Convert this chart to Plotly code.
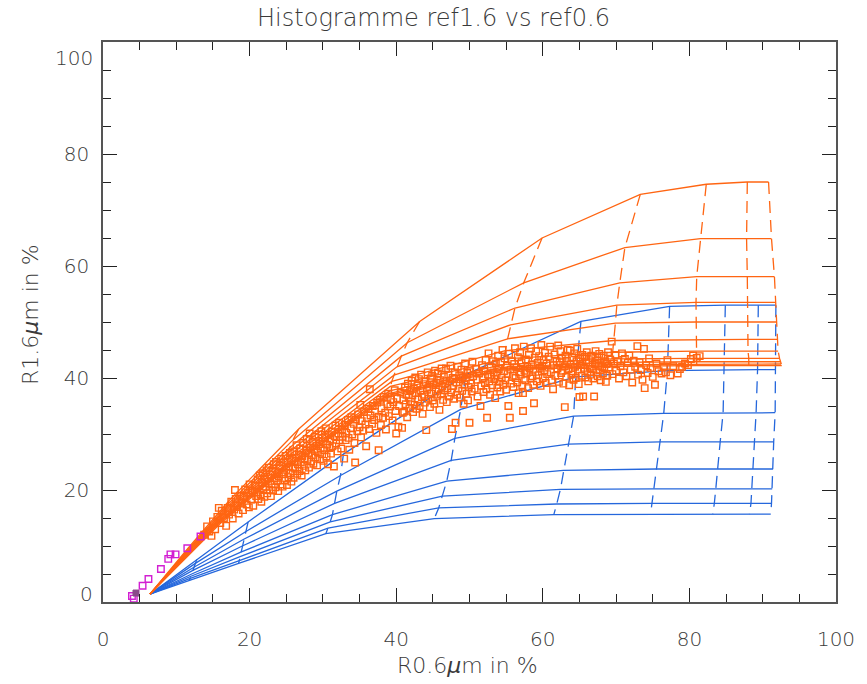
import plotly.graph_objects as go

# ---------------------------------------------------------------
# Lookup-table grid: common origin (surface reflectance), then one
# node per optical thickness (t1..t9) on each effective-radius curve.
# ---------------------------------------------------------------
START = (6.4, 1.4)

# water droplets (blue), radius curves from top to bottom
WATER_X = [
    [12.8, 19.8, 32.8, 49.5, 65.2, 77.3, 84.9, 89.4, 91.8],
    [12.6, 19.5, 32.4, 48.8, 64.5, 77.0, 84.7, 89.3, 91.7],
    [12.4, 19.2, 31.9, 48.0, 64.2, 76.5, 84.6, 89.1, 91.7],
    [12.2, 19.0, 31.6, 47.5, 63.5, 76.0, 84.2, 88.9, 91.5],
    [12.1, 18.8, 31.3, 46.9, 62.8, 75.5, 83.9, 88.7, 91.4],
    [12.0, 18.7, 31.0, 46.3, 62.4, 75.2, 83.6, 88.5, 91.3],
    [11.9, 18.6, 30.7, 45.8, 61.9, 74.9, 83.4, 88.4, 91.2],
    [11.8, 18.5, 30.4, 45.2, 61.5, 74.7, 83.2, 88.2, 91.1],
]
WATER_Y = [
    [7.6, 14.3, 26.4, 40.6, 50.1, 52.8, 53.0, 53.0, 53.0],
    [6.9, 12.6, 22.6, 34.4, 40.2, 41.3, 41.5, 41.5, 41.5],
    [6.2, 11.2, 19.8, 29.2, 33.2, 33.7, 33.8, 33.8, 33.8],
    [5.6, 10.0, 17.6, 25.3, 28.2, 28.6, 28.6, 28.6, 28.6],
    [5.0, 8.9, 15.6, 21.6, 23.5, 23.75, 23.75, 23.75, 23.75],
    [4.6, 8.1, 14.3, 18.9, 20.1, 20.2, 20.2, 20.2, 20.2],
    [4.2, 7.4, 13.2, 16.8, 17.5, 17.6, 17.6, 17.6, 17.6],
    [3.9, 6.9, 12.2, 14.9, 15.6, 15.7, 15.7, 15.7, 15.7],
]

# ice crystals (orange), radius curves from top to bottom
ICE_X = [
    [11.6, 17.2, 26.7, 43.2, 59.9, 73.3, 82.3, 87.9, 90.8],
    [11.5, 17.0, 25.9, 41.5, 57.4, 71.2, 81.5, 87.8, 91.2],
    [11.4, 16.8, 25.5, 40.7, 56.2, 70.5, 81.0, 87.9, 91.6],
    [11.3, 16.6, 25.2, 40.1, 55.6, 70.1, 80.9, 87.9, 91.8],
    [11.3, 16.5, 25.0, 39.7, 55.2, 69.9, 80.9, 88.0, 91.9],
    [11.2, 16.4, 24.9, 39.4, 54.9, 69.7, 81.0, 88.0, 92.0],
    [11.2, 16.3, 24.8, 39.2, 54.7, 69.5, 81.0, 88.0, 92.1],
    [11.1, 16.2, 24.7, 39.1, 54.5, 69.4, 81.0, 88.1, 92.3],
    [11.1, 16.1, 24.6, 39.0, 54.4, 69.4, 81.0, 88.1, 92.4],
    [11.0, 16.0, 24.6, 38.9, 54.3, 69.3, 81.0, 88.1, 92.5],
    [11.0, 16.0, 24.5, 38.9, 54.3, 69.3, 81.0, 88.1, 92.6],
]
ICE_Y = [
    [9.6, 18.1, 30.9, 50.1, 65.0, 72.8, 74.6, 75.0, 75.0],
    [9.2, 17.4, 28.9, 46.3, 57.0, 63.3, 64.9, 64.9, 64.9],
    [8.9, 16.8, 27.6, 43.9, 52.5, 57.0, 58.1, 58.1, 58.1],
    [8.7, 16.3, 26.6, 42.0, 49.5, 53.0, 53.5, 53.5, 53.5],
    [8.5, 15.9, 25.8, 40.5, 47.0, 49.8, 50.0, 50.0, 50.0],
    [8.3, 15.5, 25.1, 39.4, 44.9, 46.7, 46.9, 46.9, 46.9],
    [8.1, 15.1, 24.5, 38.5, 43.4, 44.6, 44.8, 44.8, 44.8],
    [7.9, 14.8, 24.1, 37.7, 42.4, 43.4, 43.5, 43.5, 43.5],
    [7.8, 14.5, 23.8, 37.2, 41.9, 42.8, 42.9, 42.9, 42.9],
    [7.7, 14.3, 23.5, 36.9, 41.6, 42.4, 42.5, 42.5, 42.5],
    [7.5, 14.0, 23.3, 36.6, 41.4, 42.1, 42.2, 42.2, 42.2],
]

# observed pixels: (R0.6, R1.6) in %
OBS_PIXELS = """
13.8,12.0 14.2,13.5 14.5,12.6 15.0,14.4 15.3,13.0 15.6,15.2 16.0,14.1 16.2,16.3 16.5,15.0 16.8,13.6
17.0,16.8 17.2,15.6 17.5,17.9 17.7,14.9 17.9,16.5 18.1,18.4 18.3,17.2 18.5,15.8 18.7,19.0 18.9,17.7
19.1,16.4 19.2,18.8 19.4,20.1 19.6,17.4 19.8,19.5 19.9,16.9 20.0,21.0 20.2,18.3 20.4,19.9 20.5,17.2
20.7,20.8 20.9,18.9 15.8,16.8 14.8,11.8 18.0,20.0
21.0,19.6 21.1,21.9 21.2,18.4 21.3,20.7 21.4,22.6 21.5,19.2 21.6,17.9 21.7,21.3 21.8,23.0 21.9,20.1
22.0,18.8 22.1,22.0 22.2,20.6 22.3,23.5 22.4,19.4 22.5,21.5 22.6,24.0 22.7,20.0 22.8,22.7 22.9,18.9
23.0,21.0 23.1,23.3 23.2,19.9 23.3,24.6 23.4,22.1 23.5,20.5 23.6,25.0 23.7,21.6 23.8,23.0 23.9,19.8
24.0,22.4 24.1,24.3 24.2,21.0 24.3,25.6 24.4,23.2 24.5,20.6 24.6,22.8 24.7,24.9 24.8,21.7 24.9,26.1
25.0,23.6 25.1,20.9 25.2,25.1 25.3,22.3 25.4,24.2 25.5,26.6 25.6,23.0 25.7,21.5 25.8,25.6 25.9,24.0
26.0,22.2 26.1,26.9 26.2,23.8 26.3,25.2 26.4,28.0 26.5,22.9 26.6,24.6 26.7,26.3 26.8,23.4 26.9,27.4
27.0,25.0 27.1,22.6 27.2,26.0 27.3,28.4 27.4,24.3 27.5,25.7 27.6,23.5 27.7,27.0 27.8,29.1 27.9,25.4
28.0,26.6 28.1,24.0 28.2,30.1 28.3,27.6 28.4,25.1 28.5,26.2 28.6,28.6 28.7,24.7 28.8,27.2 28.9,29.5
29.0,25.8 29.1,27.9 29.2,24.4 29.3,26.7 29.4,29.9 29.5,28.2 29.6,25.5 29.7,27.4 29.8,30.5 29.9,26.4
30.0,28.7 30.1,25.2 30.2,27.1 30.3,29.4 30.4,31.0 30.5,26.0 30.6,28.1 30.7,24.6 30.8,29.8 30.9,27.5
31.0,29.0 31.1,26.5 31.2,30.4 31.3,27.8 31.5,24.2 31.6,29.6 31.7,31.5 31.8,28.3 32.0,26.9 32.1,30.1
32.2,32.0 32.3,28.9 32.5,27.4 32.6,30.8 32.7,29.5 32.9,25.6 33.0,31.6 33.1,28.9 33.2,30.2 33.4,32.5
33.5,29.3 33.6,27.2 33.8,31.0 33.9,33.0 34.0,29.9 34.2,31.8 34.3,28.4 34.4,24.9 34.5,32.6 34.7,30.5
34.8,33.5 35.0,31.2 35.1,35.2 35.2,29.4 35.3,32.3 35.5,30.6 35.6,33.9 35.8,31.7 35.9,27.8 36.0,32.8
36.2,34.5 36.3,30.9 36.4,38.0 36.5,33.3 36.7,31.8 36.8,35.0 37.0,32.5 37.1,34.0 37.3,30.2 37.4,35.6
37.6,27.1 37.6,33.1 37.8,36.1 37.9,31.6 38.0,34.6 38.2,32.9 38.3,36.6 38.5,33.8 38.6,30.8 38.8,35.3
38.9,37.2 39.0,33.2 39.2,34.9 39.3,36.2 39.5,32.4 39.6,35.7 39.8,37.8 39.9,34.1 40.0,30.1 40.1,36.4
40.3,31.3 40.4,35.0 40.6,37.4 40.8,31.1 40.9,33.8
41.0,36.0 41.1,34.0 41.2,38.3 41.3,35.3 41.4,37.0 41.5,33.0 41.6,39.0 41.7,36.5 41.8,34.6 41.9,37.8
42.0,35.8 42.1,39.5 42.2,36.9 42.3,33.9 42.4,38.1 42.5,35.2 42.6,40.1 42.7,37.3 42.8,34.5 42.9,38.7
43.0,36.2 43.1,39.8 43.2,35.0 43.3,37.7 43.4,40.6 43.5,36.6 43.6,33.6 43.7,38.9 43.8,37.0 43.9,35.6
44.0,39.3 44.1,30.7 44.2,37.9 44.3,41.0 44.4,36.3 44.5,38.4 44.6,34.8 44.7,39.9 44.8,37.2 44.9,40.4
45.0,36.0 45.1,38.8 45.2,35.4 45.3,41.3 45.4,37.6 45.5,39.1 45.6,36.8 45.7,40.8 45.8,38.0 45.9,34.3
46.0,39.6 46.1,37.1 46.2,41.7 46.3,38.5 46.4,36.1 46.5,40.2 46.6,37.8 46.7,39.0 46.8,41.7 46.9,35.7
47.0,38.2 47.1,40.6 47.2,36.7 47.3,39.4 47.4,42.2 47.5,37.4 47.6,30.9 47.7,40.0 47.8,38.6 47.9,36.3
48.0,41.0 48.1,32.0 48.2,39.2 48.3,37.0 48.4,42.0 48.5,38.1 48.6,40.5 48.7,36.5 48.8,39.8 48.9,41.5
49.0,37.7 49.1,40.1 49.2,35.4 49.3,38.8 49.4,42.6 49.5,39.5 49.6,37.2 49.7,40.9 49.8,36.0 49.9,38.4
50.0,32.0 50.1,41.2 50.2,39.0 50.3,37.6 50.4,42.9 50.5,40.3
50.7,38.1 50.9,41.6 51.0,39.7 51.1,36.7 51.3,40.8 51.5,35.0 51.6,38.6 51.7,42.3 51.8,40.0 51.9,37.5
52.0,41.3 52.1,39.1 52.2,43.2 52.3,38.0 52.4,32.9 52.5,40.6 52.6,44.4 52.7,39.4 52.8,37.0 52.9,42.0
53.0,40.2 53.1,38.7 53.2,43.0 53.3,41.0 53.4,39.8 53.5,36.4 53.6,42.6 53.7,40.5 53.8,38.3 53.9,44.0
54.0,41.6 54.1,39.3 54.2,37.6 54.3,42.9 54.4,40.1 54.5,45.0 54.6,38.8 54.7,41.2 54.8,43.5 54.9,39.6
55.0,37.9 55.1,42.2 55.2,40.7 55.3,35.0 55.4,44.3 55.5,32.9 55.6,41.5 55.7,39.0 55.8,43.0 55.9,40.4
56.0,38.4 56.1,42.5 56.2,45.3 56.3,40.0 56.4,41.9 56.5,39.2 56.6,43.7 56.7,37.3 56.8,41.0 56.9,44.6
57.0,40.6 57.1,42.8 57.2,38.7 57.3,37.3 57.3,34.1 57.4,45.6 57.5,41.3 57.6,39.6 57.7,43.3 57.8,40.9
57.9,42.0 58.0,38.2 58.1,44.1 58.2,41.7 58.3,39.9 58.4,45.3 58.5,42.4 58.6,40.3 58.7,38.8 58.8,35.5
58.9,43.6 59.0,41.1 59.1,44.8 59.2,39.4 59.3,42.7 59.4,40.5 59.5,43.9 59.6,41.8 59.7,38.6 59.8,45.9
59.9,42.1 60.0,40.0 60.1,43.2 60.2,41.4 60.3,44.5 60.4,39.1 60.5,42.6 60.6,40.7
60.8,43.8 61.0,45.6 61.1,41.0 61.2,39.6 61.4,38.0 61.5,42.3 61.6,44.2 61.7,40.4 61.9,43.0 62.0,41.7
62.1,45.8 62.2,39.3 62.3,42.8 62.4,44.8 62.5,40.9 62.6,43.5 62.7,41.3 62.8,39.0 63.0,34.8 63.0,42.1
63.1,44.0 63.2,40.2 63.3,43.1 63.4,45.0 63.5,41.6 63.6,38.7 63.7,44.9 63.8,42.4 63.9,40.6 64.0,43.7
64.1,41.2 64.2,39.7 64.3,44.4 64.4,42.0 64.5,40.0 64.6,43.0 64.7,45.2 64.8,41.5 64.9,38.9 65.0,36.6
65.1,43.4 65.2,42.3 65.3,40.4 65.4,44.1 65.5,36.7 65.6,41.8 65.7,43.8 65.8,40.1 65.9,42.8 66.0,44.6
66.1,41.1 66.2,39.4 66.3,43.2 66.4,42.0 66.5,40.6 66.6,44.0 66.7,41.6 66.8,43.5 66.9,39.9 67.0,36.7
67.1,42.5 67.2,44.8 67.3,41.0 67.4,43.1 67.5,40.3 67.6,42.2 67.7,44.3 67.8,41.4 67.9,39.6 68.0,43.6
68.1,42.0 68.2,40.8 68.3,44.0 68.4,41.7 68.5,43.0 68.6,39.3 68.7,42.5 68.8,40.4 68.9,44.6 69.0,41.9
69.2,43.3 69.4,46.5 69.5,40.7 69.7,42.6 69.9,44.1 70.0,41.3
70.2,43.0 70.4,39.9 70.6,42.1 70.8,44.4 71.0,41.0 71.2,43.4 71.4,40.3 71.6,42.7 71.8,44.0 72.0,41.5
72.2,39.2 72.4,43.1 72.6,42.0 72.9,45.7 73.0,40.6 73.2,42.8 73.4,41.4 73.6,39.7 73.8,45.2 73.9,38.2
74.1,42.3 74.3,40.9 74.5,43.5 74.7,41.8 75.0,40.2 75.3,38.8 75.5,42.6 75.8,41.2 76.2,40.8 76.5,42.0
76.8,41.0 77.0,43.2 77.4,40.5 77.8,42.1 78.4,40.8 78.7,41.6 79.0,42.0 79.4,42.6 79.8,42.3 80.2,43.4
80.5,44.0 81.0,43.6 81.4,43.9
"""

# clear-sky / thin pixels near the origin
CLEAR_X = [3.95, 5.4, 6.2, 7.9, 8.9, 9.2, 9.9, 11.5, 13.3, 4.2]
CLEAR_Y = [1.07, 2.9, 4.1, 5.9, 7.7, 8.5, 8.5, 9.6, 11.7, 0.6]
MIXED_X = [4.5]
MIXED_Y = [1.6]

X_TICKS = [0, 20, 40, 60, 80, 100]
Y_TICKS = [0, 20, 40, 60, 80, 100]

TITLE = "Histogramme ref1.6 vs ref0.6"
X_TITLE = "R0.6<i>μ</i>m in %"
Y_TITLE = "R1.6<i>μ</i>m in %"

WATER_COLOR = "#2567dc"
ICE_COLOR = "#ff6512"
TEXT_COLOR = "#3a3a3a"
FONT = "DejaVu Sans"
FONT_WEIGHT = 200

obs = [tuple(float(v) for v in p.split(",")) for p in OBS_PIXELS.split()]
obs_x = [p[0] for p in obs]
obs_y = [p[1] for p in obs]

fig = go.Figure()


def add_grid(xs, ys, color):
    # constant-radius curves (solid)
    for rx, ry in zip(xs, ys):
        fig.add_trace(go.Scatter(
            x=[START[0]] + rx, y=[START[1]] + ry, mode="lines",
            line=dict(color=color, width=1.3), hoverinfo="skip"))
    # constant optical-thickness curves (dashed)
    for t in range(len(xs[0])):
        fig.add_trace(go.Scatter(
            x=[row[t] for row in xs], y=[row[t] for row in ys], mode="lines",
            line=dict(color=color, width=1.3, dash="12px,7px"), hoverinfo="skip"))


add_grid(WATER_X, WATER_Y, WATER_COLOR)
add_grid(ICE_X, ICE_Y, ICE_COLOR)

fig.add_trace(go.Scatter(
    x=obs_x, y=obs_y, mode="markers",
    marker=dict(symbol="square-open", size=6.5, color=ICE_COLOR,
                line=dict(width=1.4, color=ICE_COLOR))))
fig.add_trace(go.Scatter(
    x=CLEAR_X, y=CLEAR_Y, mode="markers",
    marker=dict(symbol="square-open", size=6.5, color="#d21fd2",
                line=dict(width=1.4, color="#d21fd2"))))
fig.add_trace(go.Scatter(
    x=MIXED_X, y=MIXED_Y, mode="markers",
    marker=dict(symbol="square", size=6, color="#8a4a8a",
                line=dict(width=1, color="#8a4a8a"))))

tick_font = dict(family=FONT, size=20, color=TEXT_COLOR, weight=FONT_WEIGHT)
label_font = dict(family=FONT, size=22, color=TEXT_COLOR, weight=FONT_WEIGHT)

axis_common = dict(
    range=[0, 100], showgrid=False, zeroline=False,
    showline=True, linecolor="#555555", linewidth=1.5, mirror="ticks",
    ticks="inside", ticklen=14, tickwidth=1.2, tickcolor="#222222",
    minor=dict(dtick=5, ticks="inside", ticklen=8, tickwidth=1.2,
               tickcolor="#222222", showgrid=False),
    tickfont=tick_font,
)

fig.update_xaxes(tickvals=X_TICKS, ticklabelstandoff=18, **axis_common)
fig.update_yaxes(tickvals=Y_TICKS, ticktext=["", "20", "40", "60", "80", ""],
                 ticklabelstandoff=8, **axis_common)

# end labels of the y axis sit slightly inside the range
for val, txt in [(1.4, "0"), (97.1, "100")]:
    fig.add_annotation(x=0, xref="paper", xanchor="right", xshift=-8,
                       y=val, yref="y", yanchor="middle", text=txt,
                       showarrow=False, font=tick_font)

fig.add_annotation(x=0.497, xref="paper", y=0, yref="paper", yshift=-63,
                   xanchor="center", yanchor="middle", text=X_TITLE,
                   showarrow=False, font=label_font)
fig.add_annotation(x=0, xref="paper", xshift=-73, y=0.5125, yref="paper",
                   xanchor="center", yanchor="middle", text=Y_TITLE,
                   textangle=-90, showarrow=False, font=label_font)

fig.update_layout(
    width=867, height=684,
    margin=dict(l=103, r=22, t=42, b=82),
    paper_bgcolor="white", plot_bgcolor="white",
    showlegend=False,
    title=dict(text=TITLE, x=0.5, xref="container", xanchor="center",
               y=1 - 18 / 684, yref="container", yanchor="middle",
               font=dict(family=FONT, size=24, color=TEXT_COLOR,
                         weight=FONT_WEIGHT)),
)

fig.write_html("out.html")
